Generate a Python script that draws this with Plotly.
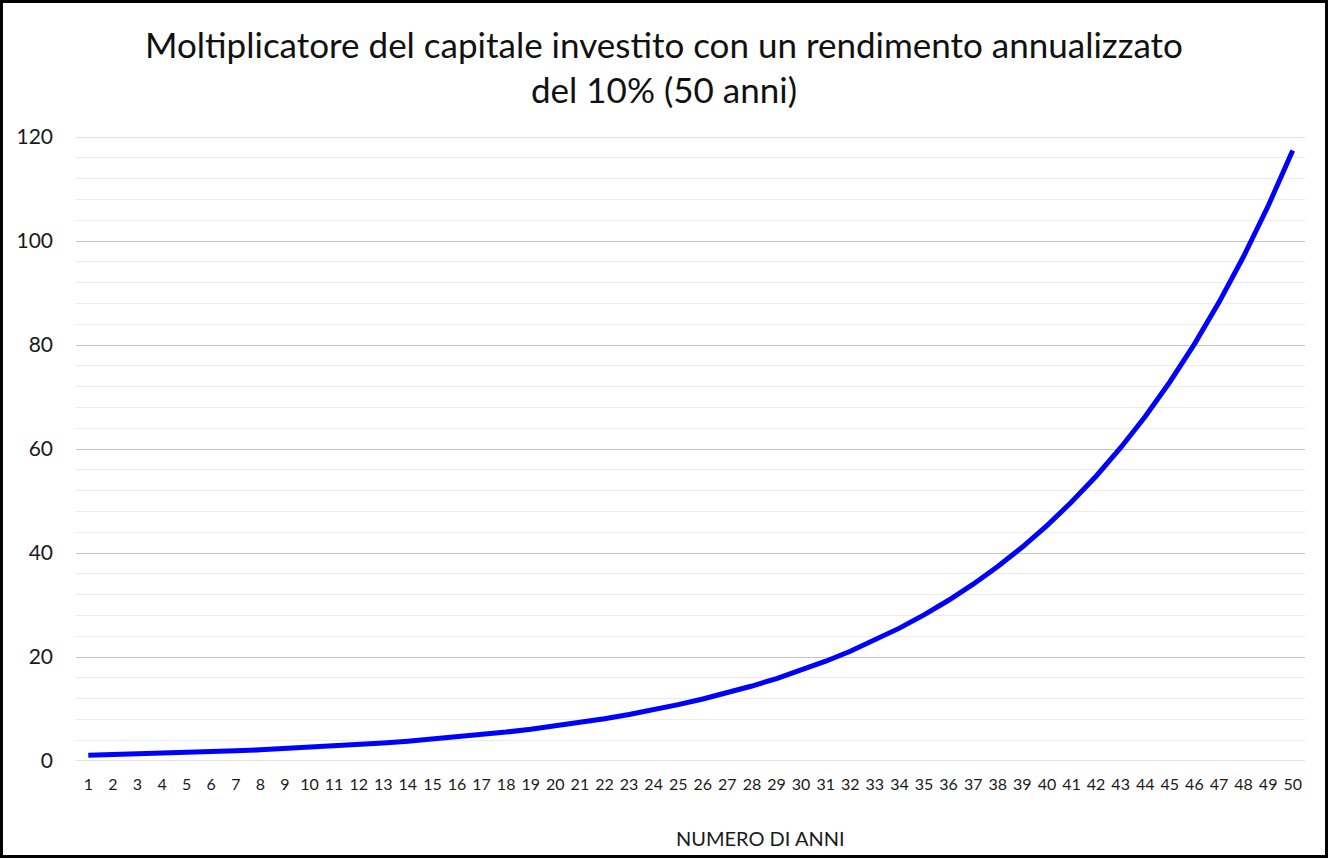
import plotly.graph_objects as go

anni = list(range(1, 51))
moltiplicatore = [
    1.10, 1.21, 1.33, 1.46, 1.61, 1.77, 1.95, 2.14, 2.36, 2.59,
    2.85, 3.14, 3.45, 3.80, 4.18, 4.59, 5.05, 5.56, 6.12, 6.73,
    7.40, 8.14, 8.95, 9.85, 10.83, 11.92, 13.11, 14.42, 15.86, 17.45,
    19.19, 21.11, 23.23, 25.55, 28.10, 30.91, 34.00, 37.40, 41.14, 45.26,
    49.79, 54.76, 60.24, 66.26, 72.89, 80.18, 88.20, 97.02, 106.72, 117.39,
]
y_ticks = [0, 20, 40, 60, 80, 100, 120]
titolo = ["Moltiplicatore del capitale investito con un rendimento annualizzato",
          "del 10% (50 anni)"]
titolo_asse_x = "NUMERO DI ANNI"

W, H = 1329, 859
ml, mr, mt, mb = 76, 24, 137, 98
pw, ph = W - ml - mr, H - mt - mb

FONT = "Lato"
TXT = "#1a1a1a"
GRID = "#c4c4c4"

def py(pix):
    return (H - mb - pix) / ph

def px(pix):
    return (pix - ml) / pw

fig = go.Figure()
fig.add_trace(go.Scatter(
    x=anni, y=moltiplicatore, mode="lines",
    line=dict(color="#0000FF", width=5),
    hoverinfo="x+y", showlegend=False, cliponaxis=False,
))

annotations = [
    dict(text=titolo[0], x=px(664), y=py(44), xref="paper", yref="paper",
         xanchor="center", yanchor="middle", showarrow=False,
         font=dict(family=FONT, size=35, color="#111111")),
    dict(text=titolo[1], x=px(664), y=py(89), xref="paper", yref="paper",
         xanchor="center", yanchor="middle", showarrow=False,
         font=dict(family=FONT, size=35, color="#111111")),
    dict(text=titolo_asse_x, x=px(760), y=py(838), xref="paper", yref="paper",
         xanchor="center", yanchor="middle", showarrow=False,
         font=dict(family=FONT, size=20, color=TXT)),
]

shapes = [dict(type="line", xref="paper", yref="y", x0=0, x1=1,
               y0=v, y1=v, line=dict(color=GRID, width=1), layer="below")
          for v in (y_ticks[0], y_ticks[-1])]
shapes.append(dict(
    type="rect", xref="paper", yref="paper",
    x0=px(1.5), x1=px(W - 2.5), y0=py(H - 2.5), y1=py(1.5),
    line=dict(color="black", width=3), fillcolor="rgba(0,0,0,0)",
    layer="above",
))

fig.update_layout(
    width=W, height=H,
    margin=dict(l=ml, r=mr, t=mt, b=mb),
    paper_bgcolor="white", plot_bgcolor="white",
    font=dict(family=FONT, color=TXT),
    xaxis=dict(
        range=[0.5, 50.5], tickmode="array", tickvals=anni,
        ticktext=[str(a) for a in anni],
        showgrid=False, zeroline=False, showline=False, ticks="",
        tickfont=dict(family=FONT, size=16, color=TXT),
        ticklabelstandoff=12,
        fixedrange=True,
    ),
    yaxis=dict(
        range=[0, 120], tickmode="array", tickvals=y_ticks,
        showgrid=True, gridcolor=GRID, gridwidth=1,
        zeroline=False, showline=False, ticks="",
        tickfont=dict(family=FONT, size=21, color=TXT),
        ticklabelstandoff=22,
        minor=dict(tick0=0, dtick=4, showgrid=True, gridcolor="#ebebeb", gridwidth=1),
        fixedrange=True,
    ),
    annotations=annotations,
    shapes=shapes,
)

fig.write_html("out.html")
